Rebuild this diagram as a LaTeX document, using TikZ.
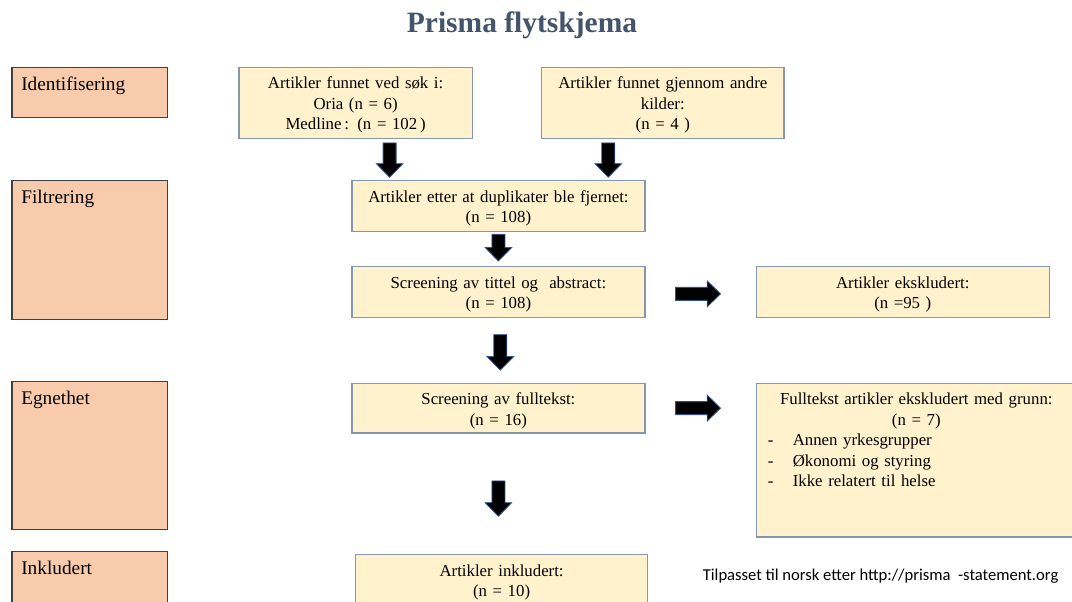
\documentclass[tikz,border=0pt]{standalone}
\usepackage{fontspec}
\setmainfont{Liberation Serif}
\newfontfamily\notefont{Carlito}
\usetikzlibrary{positioning,calc}
\setlength\parindent{0pt}
\definecolor{titleblue}{HTML}{44546A}
\definecolor{stagefill}{HTML}{F8CBAD}
\definecolor{stageline}{HTML}{404040}
\definecolor{boxfill}{HTML}{FFF2CC}
\definecolor{boxline}{HTML}{8497B0}
\definecolor{arrline}{HTML}{2F528F}
\tikzset{stage/.style={draw=stageline,fill=stagefill,line width=1.2pt,anchor=north west,inner xsep=9.4pt,inner ysep=0pt,text width=136.6pt,align=left,font=\fontsize{19.3}{23}\selectfont,text height=23.3pt},box/.style={draw=boxline,fill=boxfill,line width=1.2pt,inner sep=0pt,align=center,font=\fontsize{16.8}{20.5}\selectfont,text height=21.5pt,text depth=29pt},pics/downarr/.style={code={\filldraw[fill=black,draw=arrline,line width=.8pt] (-6.5,0)--(6.5,0)--(6.5,#1-13.5)--(13.3,#1-13.5)--(0,#1)--(-13.3,#1-13.5)--(-6.5,#1-13.5)--cycle;}},pics/rightarr/.style={code={\filldraw[fill=black,draw=arrline,line width=.8pt] (0,-6.5)--(0,6.5)--(#1-13.3,6.5)--(#1-13.3,13)--(#1,0)--(#1-13.3,-13)--(#1-13.3,-6.5)--cycle;}}}

\begin{document}
\begin{tikzpicture}[x=1pt,y=-1pt]
\useasboundingbox (0,0) rectangle (1072,602);
\clip (0,0) rectangle (1072,602);
\node[anchor=base,font=\fontsize{29.5}{34}\selectfont\bfseries,text=titleblue] (title) at (522,32.3) {Prisma flytskjema};
\node[stage,text depth=27.3pt] (ident) at (11.3,66.7) {Identifisering};
\node[stage,text depth=115.7pt] (filt) at (11.3,180) {Filtrering};
\node[stage,text depth=124.7pt] (egn) at (11.3,380.7) {Egnethet};
\node[stage,text depth=40pt] (inkl) at (11.3,551) {Inkludert};
\node[box,anchor=north west,text width=233.4pt,text depth=49.8pt] (search) at (238.3,66.7) {Artikler funnet ved søk i:\\Oria (n = 6)\\Medline\,: (n = 102\,)};
\node[box,anchor=north west,text width=242.4pt,text depth=49.8pt] (other) at (541,66.7) {Artikler funnet gjennom andre\\kilder:\\(n = 4 )};
\node[box,anchor=north west,text width=293pt] (dup) at (351.3,180) {Artikler etter at duplikater ble fjernet:\\(n = 108)};
\node[box,text width=293pt,below=34.3pt of dup] (screen) {Screening av tittel og\ \ abstract:\\(n = 108)};
\node[box,text width=293pt,below=65pt of screen,text depth=28.1pt] (full) {Screening av fulltekst:\\(n = 16)};
\node[box,text width=292.3pt,below=120.7pt of full,xshift=3.2pt,text depth=28.5pt] (incl) {Artikler inkludert:\\(n = 10)};
\node[box,text width=293.4pt,right=110pt of screen] (excl) {Artikler ekskludert:\\(n =95 )};
\node[box,anchor=north west,text width=320.4pt,text depth=132.1pt,align=left] (fullexcl) at ($(full.north east)+(110,0)$) {{\centering Fulltekst artikler ekskludert med grunn:\\(n = 7)\par}\hspace*{11.7pt}\makebox[25pt][l]{-}Annen yrkesgrupper\\\hspace*{11.7pt}\makebox[25pt][l]{-}Økonomi og styring\\\hspace*{11.7pt}\makebox[25pt][l]{-}Ikke relatert til helse};
\pic at ($(search.south)+(34,3.7)$) {downarr=34.3};
\pic at ($(other.south)+(-54.5,3.7)$) {downarr=34.3};
\pic at ($(dup.south)+(0,2.6)$) {downarr=26.7};
\pic at ($(screen.south)+(1.9,17)$) {downarr=35.4};
\pic at ($(full.south)+(0,47.4)$) {downarr=35.3};
\pic at ($(screen.east)+(30,2)$) {rightarr=45};
\pic at ($(full.east)+(30,0)$) {rightarr=45};
\node[anchor=base west,font=\notefont\fontsize{16.6}{20}\selectfont] (source) at (699.3,580.7) {Tilpasset til norsk etter http://prisma\ \ -statement.org};
\end{tikzpicture}
\end{document}
